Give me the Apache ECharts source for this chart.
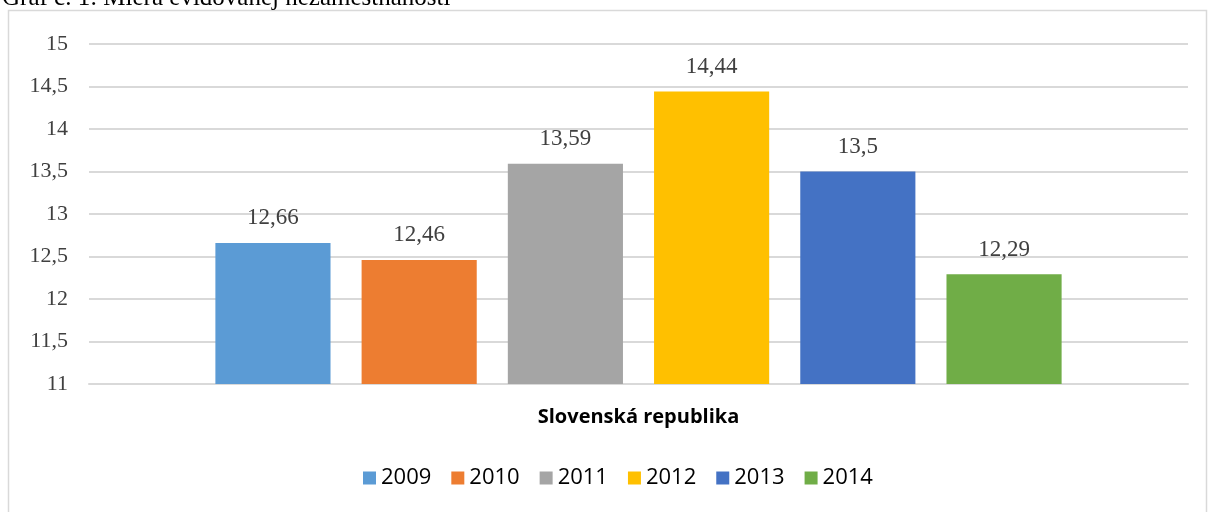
<!DOCTYPE html>
<html>
<head>
<meta charset="UTF-8">
<title>Miera evidovanej nezamestnanosti</title>
<script src="https://cdn.jsdelivr.net/npm/echarts@6/dist/echarts.min.js"></script>
<style>
  html, body { margin: 0; padding: 0; background: #fff; }
  #main { width: 1213px; height: 512px; }
</style>
</head>
<body>
<div id="main"></div>
<script>
// data
var category = ['Slovenská republika'];
var years = ['2009', '2010', '2011', '2012', '2013', '2014'];
var values = [12.66, 12.46, 13.59, 14.44, 13.5, 12.29];
var colors = ['#5B9BD5', '#ED7D31', '#A5A5A5', '#FFC000', '#4472C4', '#70AD47'];

function comma(v) {
    return String(v).replace('.', ',');
}

var series = [];
for (var i = 0; i < years.length; i++) {
    series.push({
        name: years[i],
        type: 'bar',
        data: [values[i]],
        barGap: '27%',
        barCategoryGap: '23%',
        itemStyle: { color: colors[i] },
        label: {
            show: true,
            position: 'top',
            distance: 13,
            fontFamily: 'Liberation Serif',
            fontSize: 23,
            color: '#404040',
            formatter: function (p) { return comma(p.value); }
        }
    });
}

var myChart = echarts.init(document.getElementById('main'));
var option = {
    animation: false,
    color: colors,
    graphic: [
        {
            type: 'rect',
            shape: { x: 8.5, y: 10.5, width: 1198, height: 520 },
            style: { fill: 'none', stroke: '#d9d9d9', lineWidth: 1.5 },
            silent: true
        },
        {
            // title, cut off at the top edge like in the source picture
            type: 'text',
            left: 2,
            top: -14,
            style: {
                text: 'Graf č. 1: Miera evidovanej nezamestnanosti',
                font: '25px "Liberation Serif"',
                fill: '#000'
            }
        }
    ],
    grid: { left: 89, right: 25, top: 44, bottom: 128 },
    legend: {
        bottom: 18,
        left: 358,
        itemWidth: 13,
        itemHeight: 13,
        itemGap: 20,
        icon: 'rect',
        textStyle: { fontFamily: 'Open Sans', fontSize: 22, color: '#000' },
        data: years
    },
    xAxis: {
        type: 'category',
        data: category,
        axisTick: { show: false },
        axisLine: { lineStyle: { color: '#d9d9d9', width: 2 } },
        axisLabel: {
            margin: 23,
            fontFamily: 'Open Sans',
            fontWeight: 'bold',
            fontSize: 20,
            color: '#000'
        }
    },
    yAxis: {
        type: 'value',
        min: 11,
        max: 15,
        interval: 0.5,
        axisLine: { show: false },
        axisTick: { show: false },
        splitLine: { lineStyle: { color: '#d9d9d9', width: 2 } },
        axisLabel: {
            margin: 21,
            fontFamily: 'Liberation Serif',
            fontSize: 22,
            color: '#404040',
            formatter: function (v) { return comma(v); }
        }
    },
    series: series
};
myChart.setOption(option);
</script>
</body>
</html>
